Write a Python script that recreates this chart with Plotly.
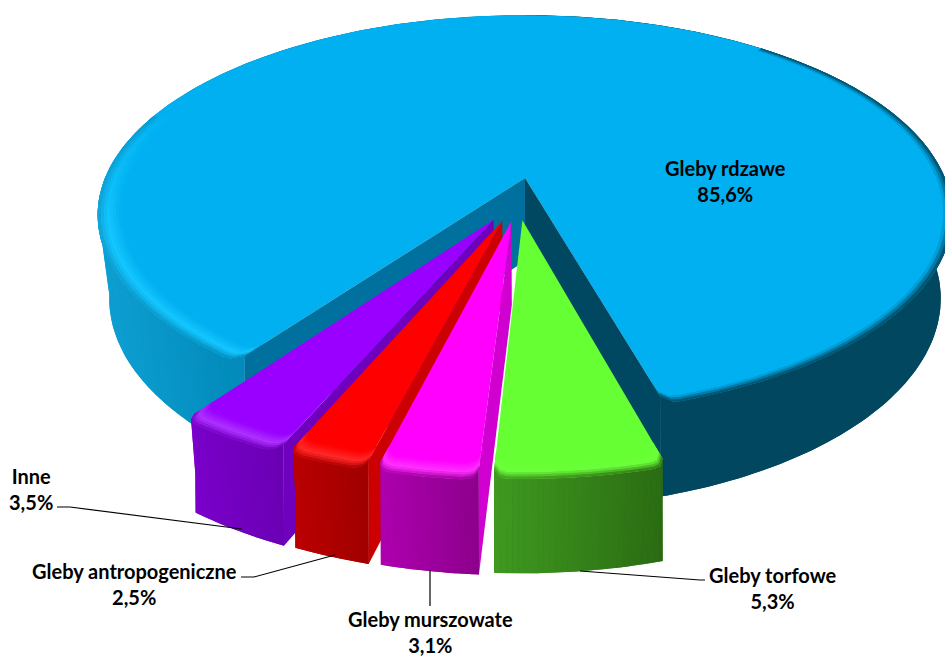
import math
import plotly.graph_objects as go

# ---- data ----
labels = ["Gleby rdzawe", "Gleby torfowe", "Gleby murszowate", "Gleby antropogeniczne", "Inne"]
values = [85.6, 5.3, 3.1, 2.5, 3.5]

# ---- projection / styling parameters (not data) ----
CX, CY, AX, BY, K, M = 525.0, 178.0, 420.0, 193.0, 0.185, 0.027
START = 15.9                      # angle (deg from "down", positive to the right) where the first wedge ends
DEPTH_BLUE, DEPTH_SLICE = 0.44, 0.435
SHIFT = {1: (-0.006, -0.21), 2: (-0.031, -0.215), 3: (-0.052, -0.213), 4: (-0.072, -0.208)}
TOP = {0: "#00B0F0", 1: "#66FF33", 2: "#FF00FF", 3: "#FF0000", 4: "#9900FF"}
BRIGHT = {0: "#14C6FF", 1: "#6CFF3A", 2: "#FF30FF", 3: "#FF2828", 4: "#AD30FF"}
WALL_L = {1: "#3F9A20", 2: "#B000B0", 3: "#BC0000", 4: "#7C00CC"}
WALL_R = {1: "#2A6A12", 2: "#8C008C", 3: "#A00000", 4: "#6A00B4"}
SIDE = {2: "#D000D0", 3: "#CC0000", 4: "#6E00BE"}
BEVEL, RINGS, PINCH = 0.055, 8, 0.985
CORNER_DEG, CORNER_R = 1.8, 0.028
BL_LEFT, BL_MID, BL_DARK = "#0E9FD2", "#0088B8", "#00475F"


def hex2rgb(c):
    return tuple(int(c[i:i + 2], 16) for i in (1, 3, 5))


def mix(a, b, t):
    t = max(0.0, min(1.0, t))
    ca, cb = hex2rgb(a), hex2rgb(b)
    return "#%02X%02X%02X" % tuple(round(ca[i] + (cb[i] - ca[i]) * t) for i in range(3))


def proj(x, y, d=0.0):
    w = 1 + K * y + (M if d else 0)
    return CX + AX * x / w, CY - BY * (y - d) / w


def pt(a, r, shift=(0, 0), d=0.0):
    t = math.radians(a)
    return proj(r * math.sin(t) + shift[0], -r * math.cos(t) + shift[1], d)


def r_edge(a, lo, hi):
    dist = min(a - lo, hi - a)
    if dist >= CORNER_DEG:
        return 1.0
    dist = max(dist, 0.0)
    return 1 - CORNER_R * (1 - math.sqrt(1 - (1 - dist / CORNER_DEG) ** 2))


layers = []


def add(poly, color, merge=True):
    if merge and layers and layers[-1][0] == color and layers[-1][2]:
        layers[-1][1].append(poly)
    else:
        layers.append((color, [poly], merge))


def rim_colour(top, bright, wall, t, hi):
    peak = mix(top, bright, hi)
    if hi <= 0:
        return mix(top, wall, (t - 0.62) / 0.38)
    if t < 0.55:
        return mix(top, peak, t / 0.55)
    return mix(peak, wall, ((t - 0.55) / 0.45) ** 1.3)


def split_runs(angs, keep):
    """contiguous lists of angles whose segments satisfy keep(mid angle)"""
    runs, cur = [], []
    for a0, a1 in zip(angs[:-1], angs[1:]):
        if keep((a0 + a1) / 2):
            if not cur:
                cur = [a0]
            cur.append(a1)
        elif cur:
            runs.append(cur)
            cur = []
    if cur:
        runs.append(cur)
    return runs


def wedge(angs, lo, hi, shift, depth, wall_fn, top, bright, hi_fn, sections):
    """wall strip, top face and bevelled rim for one wedge"""
    re = lambda a: r_edge(a, lo, hi)
    for sect in sections:
        run = split_runs(angs, sect)[0]
        strip = [pt(a, re(a), shift) for a in run] + [pt(a, 1, shift, depth) for a in reversed(run)]
        add(strip, wall_fn(run[len(run) // 2]), merge=False)
        for a0, a1 in zip(run[:-1], run[1:]):
            add([pt(a0, re(a0), shift), pt(a1, re(a1), shift), pt(a1, 1, shift, depth),
                 pt(a0, 1, shift, depth)], wall_fn((a0 + a1) / 2))
    add([proj(*shift)] + [pt(a, re(a), shift) for a in angs], top, merge=False)
    for q in range(RINGS):
        f0, f1 = 1 - BEVEL * (1 - q / RINGS), 1 - BEVEL * (1 - (q + 1) / RINGS)
        t = (q + 0.5) / RINGS
        for run in split_runs(angs, lambda a: hi_fn(a) is not None):
            mid = run[len(run) // 2]
            under = [pt(a, re(a) * f0, shift) for a in run] + [pt(a, re(a) * f1, shift) for a in reversed(run)]
            add(under, rim_colour(top, bright, wall_fn(mid), t, hi_fn(mid)), merge=False)
            for a0, a1 in zip(run[:-1], run[1:]):
                am = (a0 + a1) / 2
                c = rim_colour(top, bright, wall_fn(am), t, hi_fn(am))
                add([pt(a0, re(a0) * f0, shift), pt(a1, re(a1) * f0, shift),
                     pt(a1, re(a1) * f1, shift), pt(a0, re(a0) * f1, shift)], c)


# wedge boundaries
total = sum(values)
edges = [START]
for v in values[1:]:
    edges.append(edges[-1] - v / total * 360)
end_blue = edges[-1] + 360

# ---- main wedge ----
n = int((end_blue - START) / 1.0)
angs = [START + (end_blue - START) * i / n for i in range(n + 1)]


def blue_wall(a):
    x = pt(a, 1)[0]
    return BL_DARK if a < 180 else mix(BL_LEFT, BL_MID, (x - 100) / 150)


def blue_hi(a):
    if a < 140:
        return 0.0
    if a < 250:
        return None
    return min(1.0, (a - 250) / 35)


wedge(angs, START, end_blue, (0, 0), DEPTH_BLUE, blue_wall, TOP[0], BRIGHT[0], blue_hi,
      [lambda a: a < 180, lambda a: a >= 180])
e_l, e_r = r_edge(end_blue, START, end_blue), r_edge(START, START, end_blue)
add([(CX, CY), proj(0, 0, DEPTH_BLUE), pt(end_blue, 1, d=DEPTH_BLUE), pt(end_blue, e_l)], "#00719E", merge=False)
add([(CX, CY), proj(0, 0, DEPTH_BLUE), pt(START, 1, d=DEPTH_BLUE), pt(START, e_r)], "#004862", merge=False)

# ---- exploded wedges, drawn left to right on screen ----
for i in (4, 3, 2, 1):
    a_hi, a_lo = edges[i - 1], edges[i]
    mid_a = (a_hi + a_lo) / 2
    half = (a_hi - a_lo) / 2 * PINCH
    lo, hi = mid_a - half, mid_a + half
    s = SHIFT[i]
    m = 28
    arc = [hi + (lo - hi) * j / m for j in range(m + 1)]
    if i in SIDE:
        e = r_edge(hi, lo, hi)
        add([proj(*s), proj(*s, DEPTH_SLICE), pt(hi, 1, s, DEPTH_SLICE), pt(hi, e, s)], SIDE[i], merge=False)
    wall = lambda a, i=i, lo=lo, hi=hi: mix(WALL_L[i], WALL_R[i], (a - lo) / (hi - lo))
    wedge(arc, lo, hi, s, DEPTH_SLICE, wall, TOP[i], BRIGHT[i], lambda a: 1, [lambda a: True])

fig = go.Figure()
for color, polys, _ in layers:
    xs, ys = [], []
    for p in polys:
        xs += [q[0] for q in p] + [p[0][0], None]
        ys += [q[1] for q in p] + [p[0][1], None]
    fig.add_trace(go.Scatter(x=xs, y=ys, mode="lines", fill="toself", fillcolor=color,
                             line=dict(width=0), hoverinfo="skip", showlegend=False))

# ---- labels and leader lines ----
label_pos = {0: (725, 181), 1: (773, 588), 2: (430, 632), 3: (134, 584), 4: (31, 489)}
for i, (lab, val) in enumerate(zip(labels, values)):
    txt = f"{lab}<br>{val:.1f}%".replace(".", ",")
    fig.add_annotation(x=label_pos[i][0], y=label_pos[i][1], text=f"<b>{txt}</b>", showarrow=False,
                       font=dict(family="Lato", size=20, color="#000000"), align="center")
for path in ["M57,507 L70,507 L242,529", "M241,577 L254,577 L335,555",
             "M430,570 L430,606", "M580,571 L700,580 L705,580"]:
    fig.add_shape(type="path", path=path, line=dict(color="#000000", width=1.2))

fig.update_layout(width=945, height=659, margin=dict(l=0, r=0, t=0, b=0),
                  paper_bgcolor="#FFFFFF", plot_bgcolor="#FFFFFF", showlegend=False,
                  xaxis=dict(range=[0, 945], visible=False, fixedrange=True),
                  yaxis=dict(range=[659, 0], visible=False, fixedrange=True))
fig.write_html("out.html", config={"displayModeBar": False},
               post_script="document.body.style.margin='0';document.documentElement.style.overflow='hidden';")
